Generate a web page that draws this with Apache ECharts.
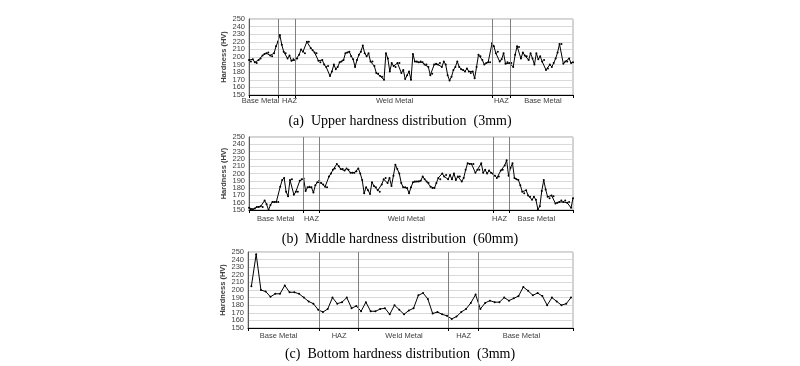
<!DOCTYPE html>
<html><head><meta charset="utf-8">
<script src="https://cdn.jsdelivr.net/npm/echarts@6/dist/echarts.min.js"></script>
<style>html,body{margin:0;padding:0;background:#fff}#c{width:800px;height:366px}</style>
</head><body><div id="c"></div>
<script>
// ---- data ----
const zoneNames = ['Base Metal', 'HAZ', 'Weld Metal', 'HAZ', 'Base Metal'];
const yMin = 150, yMax = 250, yStep = 10;
const yTickLabelsA = [150, 170, 190, 210, 230, 250];
const yTickLabelsB = [160, 180, 200, 220, 240];
const titles = [
  '(a)  Upper hardness distribution  (3mm)',
  '(b)  Middle hardness distribution  (60mm)',
  '(c)  Bottom hardness distribution  (3mm)'
];

// (a) upper, 3 mm — hardness per indent
const hardnessUpper = [
  196,194,197,193,192,196,198,202,204,205,
  206,202,201,205,214,220,229,216,207,205,
  198,202,195,197,196,198,203,210,207,205,
  220,220,212,209,206,205,195,193,196,190,
  187,188,175,181,190,184,187,193,194,196,
  205,206,207,201,197,187,196,203,207,215,
  205,201,205,194,194,188,179,178,175,174,
  170,205,198,181,192,188,187,192,192,179,
  183,171,176,181,170,204,194,194,193,194,
  193,190,
  190,187,176,178,190,191,190,192,187,194,
  190,176,169,174,183,187,194,187,184,183,
  181,185,181,179,181,172,187,203,201,196,
  190,192,193,193,218,214,205,207,194,197,
  205,191,193,192,192,187,203,214,213,198,
  206,202,201,196,205,198,190,205,197,201,
  194,196,183,185,190,187,192,198,206,217,
  217,191,194,194,198,192,193
];
// zone edges and zone-label positions in indent-number units
const zoneEdgesUpper = [0, 15.2, 24.1, 126.1, 135.3, 168];
const zoneLabelPosUpper = [6.0, 21.0, 75.5, 130.9, 152.4];

// (b) middle, 60 mm
const hardnessMiddle = [
  153,151,151,152,154,154,155,154,163,158,
  150,157,161,161,161,161,182,191,194,175,
  169,191,192,171,175,175,190,192,193,176,
  181,182,181,174,184,188,190,187,185,182,
  181,196,200,205,207,213,210,206,206,204,
  207,205,201,201,201,203,207,200,191,173,
  181,177,172,188,183,181,177,175,185,192,
  194,187,194,183,197,212,206,200,187,181,
  181,180,173,181,188,189,189,189,190,
  196,192,189,187,182,180,180,187,194,192,
  200,196,198,192,198,192,200,191,196,196,
  189,194,205,214,213,213,213,201,205,205,
  214,201,205,200,204,201,200,197,194,196,
  204,205,211,218,197,208,214,194,192,191,
  184,175,173,177,170,168,164,168,164,151,
  155,176,191,178,168,166,170,169,159,160,
  161,163,161,163,160,161,153,166
];
const zoneEdgesMiddle = [0, 27.7, 35.9, 125, 133.2, 166];
const zoneLabelPosMiddle = [13.7, 32.0, 80.6, 128.4, 147.2];

// (c) bottom, 3 mm
const hardnessBottom = [
  205,247,200,198,191,195,195,206,197,197,
  195,190,185,182,174,171,175,190,182,184,
  190,176,179,172,184,172,172,175,176,168,
  180,174,168,173,176,193,196,188,169,171,
  168,166,162,165,171,175,183,194,175,183,
  186,184,184,190,186,189,192,204,199,193,
  196,192,180,190,185,180,182,190
];
const zoneEdgesBottom = [-0.71, 14.2, 22.5, 41.2, 47.5, 67.42];
const zoneLabelPosBottom = [5.7, 18.4, 32.0, 44.5, 56.6];

// ---- layout ----
const panels = [
  { vals: hardnessUpper,  edges: zoneEdgesUpper,  labels: zoneLabelPosUpper,  grid: {left:249, top:19,  width:324, height:76}, titleTop:109, labelMargin:2 },
  { vals: hardnessMiddle, edges: zoneEdgesMiddle, labels: zoneLabelPosMiddle, grid: {left:249, top:137, width:324, height:73}, titleTop:227, labelMargin:5 },
  { vals: hardnessBottom, edges: zoneEdgesBottom, labels: zoneLabelPosBottom, grid: {left:248, top:252, width:325, height:76}, titleTop:342, labelMargin:4 }
];

const font = 'Liberation Sans';
const option = { animation:false, title:[], grid:[], xAxis:[], yAxis:[], series:[] };
const yLabelStyle = { fontFamily: font, fontSize: 7.5, color: '#404040', margin: 4,
                      showMinLabel: true, showMaxLabel: true, hideOverlap: false };

panels.forEach((p, i) => {
  const mids = p.labels;
  option.title.push({
    text: titles[i], left: 'center', top: p.titleTop,
    textStyle: { fontFamily: 'Liberation Serif', fontSize: 14, fontWeight: 'normal', color: '#000' }
  });
  option.grid.push(Object.assign({ show: true, borderColor: '#a6a6a6', borderWidth: 1, containLabel: false }, p.grid));
  option.xAxis.push({
    gridIndex: i, type: 'value', min: p.edges[0], max: p.edges[p.edges.length-1],
    axisLine: { show: true, onZero: false, lineStyle: { color: '#000', width: 1 } },
    axisTick: { show: true, customValues: p.edges, length: 3, lineStyle: { color: '#000' } },
    axisLabel: {
      show: true, customValues: mids, margin: p.labelMargin, hideOverlap: false,
      showMinLabel: true, showMaxLabel: true,
      fontFamily: font, fontSize: 7.5, color: '#404040',
      formatter: v => {
        let best = 0;
        mids.forEach((m, j) => { if (Math.abs(m - v) < Math.abs(mids[best] - v)) best = j; });
        return zoneNames[best];
      }
    },
    splitLine: { show: false }
  });
  // main y axis: grid lines, axis line, name, half of the tick labels
  option.yAxis.push({
    gridIndex: i, type: 'value', position: 'left', offset: 0,
    min: yMin, max: yMax, interval: yStep,
    name: 'Hardness (HV)', nameLocation: 'middle', nameGap: 21,
    nameTextStyle: { fontFamily: font, fontSize: 7.5, fontWeight: 'bold', color: '#404040' },
    axisLine: { show: true, onZero: false, lineStyle: { color: '#595959' } },
    axisTick: { show: false },
    axisLabel: Object.assign({ customValues: yTickLabelsA }, yLabelStyle),
    splitLine: { show: true, lineStyle: { color: '#d9d9d9', width: 1 } }
  });
  // companion y axis: the other half of the tick labels
  option.yAxis.push({
    gridIndex: i, type: 'value', position: 'left', offset: 0,
    min: yMin, max: yMax, interval: yStep,
    axisLine: { show: false }, axisTick: { show: false }, splitLine: { show: false },
    axisLabel: Object.assign({ customValues: yTickLabelsB }, yLabelStyle)
  });
  option.series.push({
    type: 'line', xAxisIndex: i, yAxisIndex: 2 * i,
    data: p.vals.map((v, j) => [j, v]),
    symbol: 'circle', symbolSize: 2, showSymbol: true,
    lineStyle: { color: '#000', width: 1 }, itemStyle: { color: '#000' },
    emphasis: { disabled: true },
    markLine: {
      silent: true, symbol: ['none', 'none'], label: { show: false },
      lineStyle: { color: '#808080', width: 1, type: 'solid' },
      emphasis: { disabled: true },
      data: p.edges.slice(1, -1).map(e => ({ xAxis: e }))
    }
  });
});

const chart = echarts.init(document.getElementById('c'), null, { renderer: 'canvas' });
chart.setOption(option);
</script>
</body></html>
